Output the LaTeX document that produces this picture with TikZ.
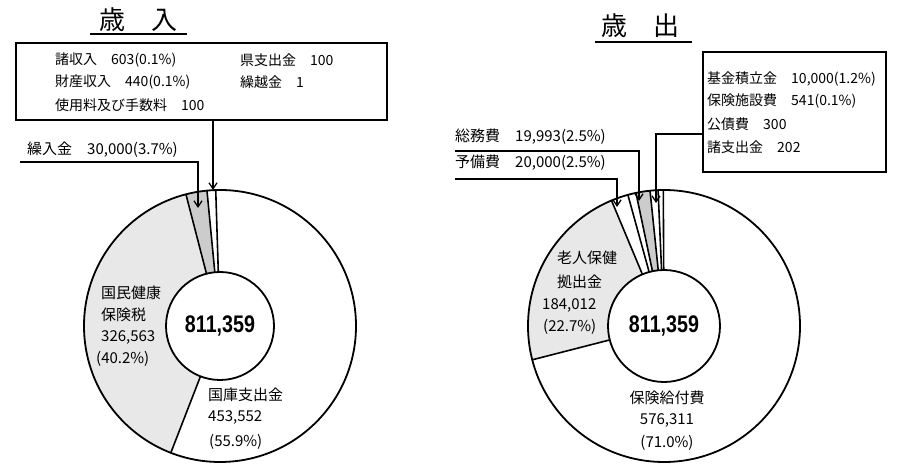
\documentclass[tikz,border=0pt]{standalone}
\usepackage{fontspec}
\setmainfont{Noto Sans CJK JP}
\newfontfamily\numfont{Liberation Sans}
\usetikzlibrary{arrows.meta,calc}
\newcommand\ringsector[6]{%
  \fill[#6] ($(#1)+(#2:#4)$) arc[start angle=#2,end angle=#3,radius=#4]
    -- ($(#1)+(#3:#5)$) arc[start angle=#3,end angle=#2,radius=#5] -- cycle;}
\newcommand\radline[4]{\draw[part] ($(#1)+(#2:#3)$) -- ($(#1)+(#2:#4)$);}
\begin{document}
\begin{tikzpicture}[x=1pt,y=1pt,
  ring/.style={line width=1.8pt},
  part/.style={line width=1.6pt},
  boxst/.style={draw, line width=1.6pt, inner sep=0pt},
  lbl/.style={font=\fontsize{14}{14}\selectfont, inner sep=0pt, anchor=west},
  dlbl/.style={font=\fontsize{15}{15}\selectfont, inner sep=0pt},
  ttl/.style={font=\fontsize{26}{26}\selectfont, inner sep=0pt},
  total/.style={font=\numfont\bfseries\fontsize{24}{24}\selectfont, xscale=0.82, inner sep=0pt},
  leader/.style={line width=1.3pt, -{Straight Barb[length=6pt,width=8pt,line width=1.3pt]}},
  shadeA/.style={fill=black!9},
  shadeB/.style={fill=black!20}]
\useasboundingbox (0,0) rectangle (899,473);

% ---------------- left: revenue ----------------
\coordinate (CL) at (220,147);
\node[ttl] (tIn) at (138.5,453) {歳　入};
\draw[line width=1.5pt] (90,439) -- (187,439);

\ringsector{CL}{-111.2}{-255.5}{136}{54}{shadeA}
\ringsector{CL}{104.5}{95.5}{136}{54}{shadeB}
\radline{CL}{-111.2}{54}{136}
\radline{CL}{104.5}{54}{136}
\radline{CL}{95.5}{54}{136}
\radline{CL}{91.8}{54}{136}
\draw[ring] (CL) circle[radius=136];
\node[circle, draw, ring, fill=white, minimum size=108pt, inner sep=0pt] (inL) at (CL) {};
\node[total] (numL) at (CL) {811,359};

\node[boxst, minimum width=371pt, minimum height=77pt] (boxL) at (201.5,391.5) {};
\node[lbl] (l1) at (55,413) {諸収入　603(0.1\%)};
\node[lbl] (l2) at (240,413) {県支出金　100};
\node[lbl] (l3) at (55,391) {財産収入　440(0.1\%)};
\node[lbl] (l4) at (240,391) {繰越金　1};
\node[lbl] (l5) at (55,368) {使用料及び手数料　100};

\node[lbl, font=\fontsize{15}{15}\selectfont] (kuri) at (27,323) {繰入金　30,000(3.7\%)};
\coordinate (kuriA) at (20,311);
\coordinate (kuriB) at (198,311);
\coordinate (kuriT) at (198,265);
\draw[leader] (kuriA) -- (kuriB) -- (kuriT);
\coordinate (boxLA) at (213,353);
\coordinate (boxLT) at (213,283);
\draw[leader] (boxLA) -- (boxLT);

\node[dlbl, anchor=west] (kk1) at (101,180) {国民健康};
\node[dlbl, anchor=west] (kk2) at (101,158) {保険税};
\node[dlbl, anchor=west] (kk3) at (101,136) {326,563};
\node[dlbl, anchor=west] (kk4) at (96,114) {(40.2\%)};

\node[dlbl, anchor=west] (kj1) at (208,78) {国庫支出金};
\node[dlbl, anchor=west] (kj2) at (208,56) {453,552};
\node[dlbl, anchor=west] (kj3) at (209,31) {(55.9\%)};

% ---------------- right: expenditure ----------------
\coordinate (CR) at (664,147);
\node[ttl] (tOut) at (640,447) {歳　出};
\draw[line width=1.5pt] (595,431) -- (692,431);

\ringsector{CR}{194.4}{112.7}{136}{56}{shadeA}
\ringsector{CR}{101.9}{95.9}{136}{56}{shadeB}
\radline{CR}{194.4}{56}{136}
\radline{CR}{112.7}{56}{136}
\radline{CR}{105.4}{56}{136}
\radline{CR}{101.9}{56}{136}
\radline{CR}{95.9}{56}{136}
\radline{CR}{92.5}{56}{136}
\radline{CR}{90.3}{56}{136}
\draw[ring] (CR) circle[radius=136];
\node[circle, draw, ring, fill=white, minimum size=112pt, inner sep=0pt] (inR) at (CR) {};
\node[total] (numR) at (CR) {811,359};

\node[boxst, minimum width=183pt, minimum height=120pt] (boxR) at (794.5,361) {};
\node[lbl] (r1) at (707,394) {基金積立金　10,000(1.2\%)};
\node[lbl] (r2) at (707,372) {保険施設費　541(0.1\%)};
\node[lbl] (r3) at (707,349) {公債費　300};
\node[lbl] (r4) at (707,326) {諸支出金　202};

\node[lbl, font=\fontsize{15}{15}\selectfont] (som) at (455,336) {総務費　19,993(2.5\%)};
\node[lbl, font=\fontsize{15}{15}\selectfont] (yob) at (455,310) {予備費　20,000(2.5\%)};
\coordinate (somA) at (455,322);
\coordinate (somB) at (639,322);
\coordinate (somT) at (639,272);
\draw[leader] (somA) -- (somB) -- (somT);
\coordinate (yobA) at (455,294);
\coordinate (yobB) at (617,294);
\coordinate (yobT) at (617,266);
\draw[leader] (yobA) -- (yobB) -- (yobT);
\coordinate (boxRA) at (boxR.west |- 0,339);
\coordinate (boxRB) at (656,339);
\coordinate (boxRT) at (656,270);
\draw[leader] (boxRA) -- (boxRB) -- (boxRT);

\node[dlbl, anchor=west] (rj1) at (557,215) {老人保健};
\node[dlbl, anchor=west] (rj2) at (557,191) {拠出金};
\node[dlbl, anchor=west] (rj3) at (542,168) {184,012};
\node[dlbl, anchor=west] (rj4) at (543,146) {(22.7\%)};

\node[dlbl] (hk1) at (667,75) {保険給付費};
\node[dlbl] (hk2) at (667,53) {576,311};
\node[dlbl] (hk3) at (667,30) {(71.0\%)};
\end{tikzpicture}
\end{document}
